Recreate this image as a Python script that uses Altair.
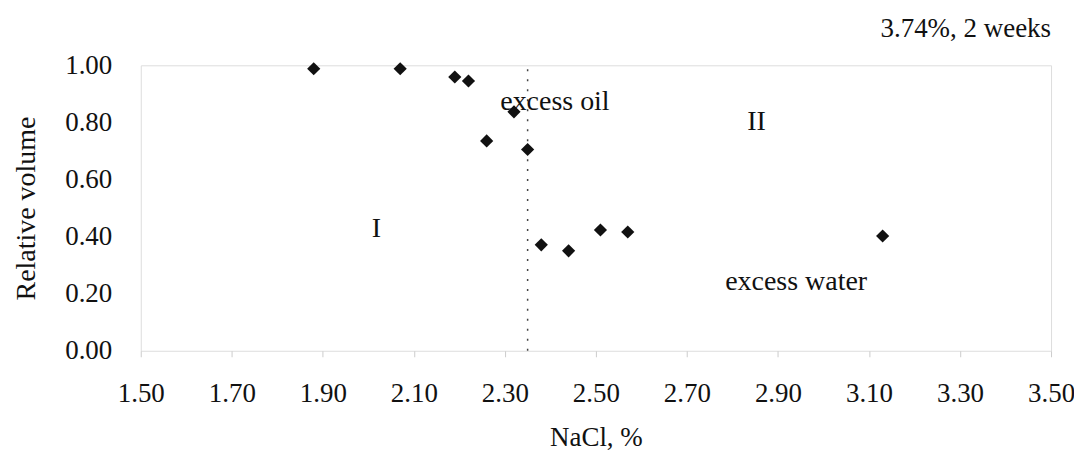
import altair as alt
import pandas as pd

# Data
nacl = [1.88, 2.07, 2.19, 2.22, 2.32, 2.26, 2.35, 2.38, 2.44, 2.51, 2.57, 3.13]
rel_volume = [0.988, 0.988, 0.959, 0.945, 0.837, 0.735, 0.705, 0.371, 0.350, 0.423, 0.416, 0.402]

divider_x = [2.35]

ann_text = ["excess oil", "II", "I", "excess water"]
ann_x = [2.41, 2.853, 2.018, 2.94]
ann_y = [0.871, 0.80, 0.427, 0.242]

x_ticks = [1.5, 1.7, 1.9, 2.1, 2.3, 2.5, 2.7, 2.9, 3.1, 3.3, 3.5]
y_ticks = [0.0, 0.2, 0.4, 0.6, 0.8, 1.0]

FONT = "Liberation Serif"

pts = pd.DataFrame({"x": nacl, "y": rel_volume})
div = pd.DataFrame({"x": divider_x, "y0": [0.0], "y1": [1.0]})
ann = pd.DataFrame({"t": ann_text, "x": ann_x, "y": ann_y})

xscale = alt.Scale(domain=[1.5, 3.5], nice=False, zero=False)
yscale = alt.Scale(domain=[0.0, 1.0], nice=False, zero=False)

xaxis = alt.Axis(
    title="NaCl, %", values=x_ticks, format=".2f", grid=False, domain=False,
    ticks=True, tickSize=6, tickColor="#cccccc", labelPadding=24,
    labelFlush=False, labelOverlap=False,
    labelFont=FONT, labelFontSize=27, labelColor="#111111",
    titleFont=FONT, titleFontSize=27, titleFontWeight="normal", titleColor="#111111",
    titlePadding=18,
)
yaxis = alt.Axis(
    title="Relative volume", values=y_ticks, format=".2f", grid=False, domain=False,
    ticks=False, labelPadding=29, labelFlush=False, labelOverlap=False,
    labelFont=FONT, labelFontSize=27, labelColor="#111111",
    titleFont=FONT, titleFontSize=28, titleFontWeight="normal", titleColor="#111111",
    titlePadding=24,
)

points = alt.Chart(pts).mark_point(
    shape="diamond", filled=True, size=175, color="#111111", opacity=1
).encode(
    x=alt.X("x:Q", scale=xscale, axis=xaxis),
    y=alt.Y("y:Q", scale=yscale, axis=yaxis),
)

rule = alt.Chart(div).mark_rule(
    color="#444444", strokeDash=[2, 8], strokeWidth=1.5
).encode(
    x=alt.X("x:Q", scale=xscale),
    y=alt.Y("y0:Q", scale=yscale),
    y2="y1:Q",
)

labels = alt.Chart(ann).mark_text(
    font=FONT, fontSize=28, color="#111111", align="center", baseline="middle"
).encode(
    x=alt.X("x:Q", scale=xscale),
    y=alt.Y("y:Q", scale=yscale),
    text="t:N",
)

chart = (
    alt.layer(rule, points, labels)
    .properties(
        width=912,
        height=286,
        title=alt.TitleParams(
            "3.74%, 2 weeks", anchor="end", frame="group", font=FONT, fontSize=27,
            fontWeight="normal", color="#111111", offset=8,
        ),
        autosize=alt.AutoSizeParams(type="none"),
        padding={"left": 133, "top": 57, "right": 23, "bottom": 101},
    )
    .configure_view(stroke="#111111", strokeWidth=1.4)
    .configure(background="white")
)

chart.save("out.html", embed_options={"renderer": "svg", "actions": False})
